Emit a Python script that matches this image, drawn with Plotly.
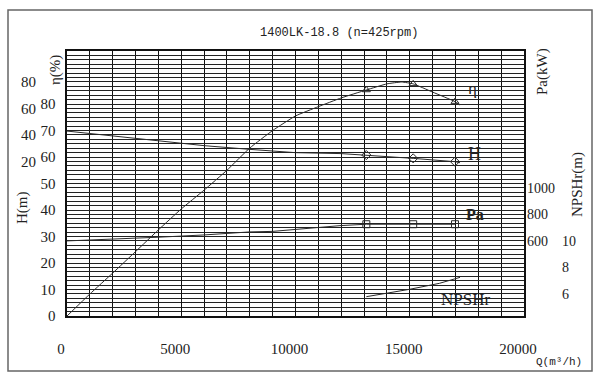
import plotly.graph_objects as go

# ---------------- data ----------------
x_ticks = [0, 5000, 10000, 15000, 20000]
eta_ticks = [0, 10, 20, 30, 40, 50, 60, 70, 80]
h_ticks = [20, 40, 60, 80]
pa_ticks = [600, 800, 1000]
npsh_ticks = [6, 8, 10]

eta_q = [0, 1000, 2000, 3000, 4000, 5000, 6000, 7000, 8000, 9000, 10000,
         11000, 12000, 13100, 14000, 14650, 15150, 16000, 16980, 17200]
eta_v = [0, 8.3, 16.2, 24.3, 32.5, 40.4, 47.5, 55.0, 63.4, 70.0, 75.5,
         79.0, 82.3, 85.3, 87.6, 88.3, 87.6, 84.5, 80.9, 79.6]

h_q = [0, 3000, 6000, 8000, 10000, 12000, 13100, 15150, 16980, 17200]
h_v = [42.9, 37.4, 31.9, 29.1, 26.6, 25.9, 24.8, 22.3, 19.8, 19.0]

pa_q = [0, 2000, 4000, 6000, 8000, 9000, 10000, 11000, 12000, 13100, 15150, 16980]
pa_v = [600, 612, 628, 645, 668, 672, 688, 703, 716, 726, 726, 726]

npsh_q = [13100, 15000, 16300, 17200]
npsh_v = [5.79, 6.35, 6.8, 7.25]

mark_q = [13100, 15150, 16980]
eta_mark = [85.3, 87.6, 80.9]
h_mark = [24.8, 22.3, 19.8]
pa_mark = [726, 726, 726]

# ---------------- layout geometry ----------------
W, HH = 600, 380
L, R, T, B = 67, 524, 51, 316
LC = "#2a2a2a"
FONT = "Liberation Serif"

fig = go.Figure()
fig.add_trace(go.Scatter(x=eta_q, y=eta_v, mode="lines", yaxis="y",
                         line=dict(color=LC, width=1, shape="spline", smoothing=0.4),
                         showlegend=False))
fig.add_trace(go.Scatter(x=mark_q, y=eta_mark, mode="markers", yaxis="y",
                         marker=dict(symbol="triangle-up-open", size=7, color=LC,
                                     line=dict(width=1)), showlegend=False))
fig.add_trace(go.Scatter(x=h_q, y=h_v, mode="lines", yaxis="y2",
                         line=dict(color=LC, width=1), showlegend=False))
fig.add_trace(go.Scatter(x=mark_q, y=h_mark, mode="markers", yaxis="y2",
                         marker=dict(symbol="diamond-open", size=7, color=LC,
                                     line=dict(width=1)), showlegend=False))
fig.add_trace(go.Scatter(x=pa_q, y=pa_v, mode="lines", yaxis="y3",
                         line=dict(color=LC, width=1), showlegend=False))
fig.add_trace(go.Scatter(x=mark_q, y=pa_mark, mode="markers", yaxis="y3",
                         marker=dict(symbol="square-open", size=7, color=LC,
                                     line=dict(width=1)), showlegend=False))
fig.add_trace(go.Scatter(x=npsh_q, y=npsh_v, mode="lines", yaxis="y4",
                         line=dict(color=LC, width=1), showlegend=False))

tickfont = dict(family=FONT, size=15, color="#222")
ydom = [1 - B / HH, 1 - T / HH]

fig.update_layout(
    width=W, height=HH,
    margin=dict(l=0, r=0, t=0, b=0, autoexpand=False),
    paper_bgcolor="white", plot_bgcolor="white",
    xaxis=dict(domain=[L / W, R / W], range=[0, 20000],
               tickmode="array", tickvals=x_ticks,
               ticktext=[str(v) for v in x_ticks],
               showgrid=True, gridcolor="#111", gridwidth=1,
               minor=dict(tickmode="linear", tick0=0, dtick=1000, showgrid=True,
                          gridcolor="#111", gridwidth=1),
               showline=True, linecolor="#111", linewidth=1.6, mirror=True,
               ticks="", zeroline=False, tickfont=tickfont,
               ticklabelstandoff=18, ticklabelshift=-6, fixedrange=True),
    yaxis=dict(domain=ydom, range=[0, 100], tickmode="array", tickvals=eta_ticks,
               showgrid=True, gridcolor="#222", gridwidth=1,
               minor=dict(tickmode="linear", tick0=0, dtick=100 / 60, showgrid=True,
                          gridcolor="#222", gridwidth=1),
               showline=True, linecolor="#111", linewidth=1.6, mirror=True,
               ticks="", zeroline=False, tickfont=tickfont,
               ticklabelstandoff=7, fixedrange=True),
    yaxis2=dict(overlaying="y", anchor="free", position=38 / W, side="left",
                range=[-96.6667, 103.3333], tickmode="array", tickvals=h_ticks,
                showgrid=False, showline=False, ticks="", zeroline=False,
                tickfont=tickfont, ticklabelstandoff=2, fixedrange=True),
    yaxis3=dict(overlaying="y", anchor="x", side="right",
                range=[33.3333, 2033.3333], tickmode="array", tickvals=pa_ticks,
                showgrid=False, showline=False, ticks="", zeroline=False,
                tickfont=dict(family=FONT, size=14, color="#222"),
                ticklabelstandoff=2, fixedrange=True),
    yaxis4=dict(overlaying="y", anchor="free", position=559 / W, side="right",
                range=[4.3333, 24.3333], tickmode="array", tickvals=npsh_ticks,
                showgrid=False, showline=False, ticks="", zeroline=False,
                tickfont=dict(family=FONT, size=14, color="#222"),
                ticklabelstandoff=2, fixedrange=True),
)

# outer frame
fig.add_shape(type="rect", xref="paper", yref="paper",
              x0=8 / W, x1=592 / W, y0=1 - 371 / HH, y1=1 - 10 / HH,
              line=dict(color="#666", width=1.5), fillcolor="rgba(0,0,0,0)")


def ann(text, px, py, size, angle=0, family=FONT, bold=False):
    fig.add_annotation(text=("<b>%s</b>" % text) if bold else text,
                       x=px / W, y=1 - py / HH, xref="paper", yref="paper",
                       showarrow=False, textangle=angle,
                       font=dict(family=family, size=size, color="#222"),
                       xanchor="center", yanchor="middle")


ann("1400LK-18.8 (n=425rpm)", 339, 33, 12, family="Liberation Mono")
ann("η(%)", 55, 70, 15, angle=-90)
ann("H(m)", 22, 208, 15, angle=-90)
ann("Pa(kW)", 542, 72, 15, angle=-90)
ann("NPSHr(m)", 577, 185, 15, angle=-90)
ann("Q(m³/h)", 559, 362, 11, family="Liberation Mono")
ann("η", 472, 88, 17)
ann("H", 474, 154, 18)
ann("Pa", 475, 214, 16, bold=True)
ann("NPSHr", 465, 299, 17)

fig.write_html("out.html",
               config={"displayModeBar": False, "staticPlot": True},
               post_script="document.body.style.margin='0';"
                           "document.body.style.padding='0';")
